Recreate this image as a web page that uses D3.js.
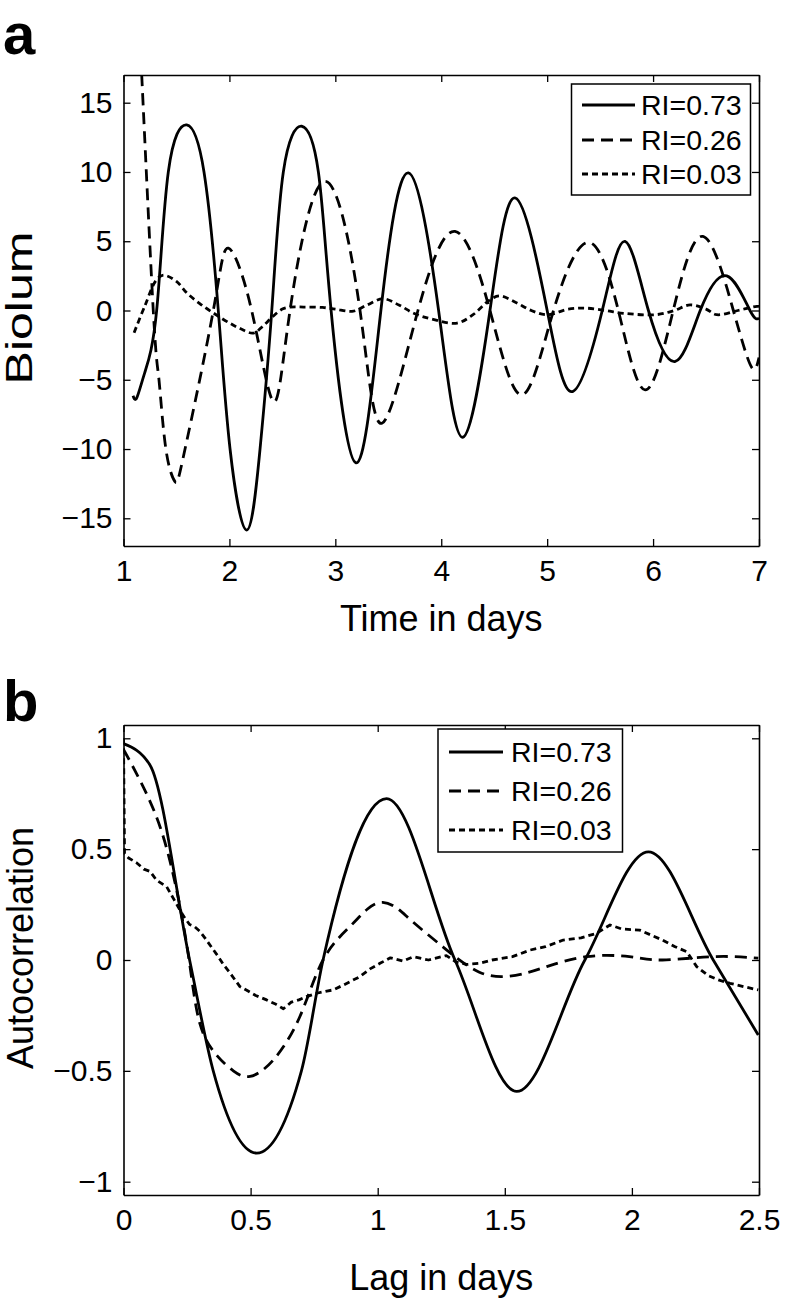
<!DOCTYPE html>
<html>
<head>
<meta charset="utf-8">
<script src="https://cdn.jsdelivr.net/npm/d3@7"></script>
<style>
  html, body { margin: 0; padding: 0; background: #fff; }
  svg { display: block; }
  text { font-family: "Liberation Sans", Arial, Helvetica, sans-serif; fill: #000; }
</style>
</head>
<body>
<script>
// ---------------- DATA ----------------
const seriesNames = ["RI=0.73", "RI=0.26", "RI=0.03"];

// Panel a: time (days) vs Biolum
const timeTicks = [1, 2, 3, 4, 5, 6, 7];
const biolumTicks = [-15, -10, -5, 0, 5, 10, 15];

const biolum073 = [
  [1.09,-6.15],[1.125,-6.3],[1.2,-4.5],[1.313,0],[1.423,10],[1.597,13.4],[1.76,10],[1.895,0],[2.006,-10],
  [2.163,-15.85],[2.289,-10],[2.40,0],[2.509,10],[2.683,13.3],[2.84,10],[2.96,0],
  [3.195,-11.0],[3.43,0],[3.69,9.93],[3.975,0],[4.203,-9.15],[4.46,0],[4.70,8.12],
  [5.0,0],[5.24,-5.85],[5.52,0],[5.735,4.99],[5.956,0],[6.21,-3.68],[6.445,0],[6.696,2.5],
  [6.915,0],[7.0,-0.55]
];
const biolum026 = [
  [1.10,28],[1.172,17],[1.281,0],[1.335,-5],[1.40,-10],[1.486,-12.35],[1.581,-10],[1.848,0],
  [1.99,4.5],[2.21,0],[2.415,-6.57],[2.572,0],[2.90,9.32],[3.233,0],[3.44,-8.14],[3.78,0],
  [4.13,5.71],[4.46,0],[4.76,-6.09],[5.06,0],[5.39,4.92],[5.672,0],[5.925,-5.73],[6.19,0],
  [6.47,5.35],[6.758,0],[6.93,-4.09],[7.0,-3.4]
];
const biolum003 = [
  [1.10,-1.6],[1.2,0.3],[1.31,2.2],[1.376,2.55],[1.5,2.1],[1.6,1.25],[1.72,0.5],[1.85,-0.19],[2.0,-0.9],
  [2.1,-1.3],[2.226,-1.63],[2.32,-1.1],[2.41,-0.43],[2.5,0.1],[2.57,0.24],[2.7,0.25],[2.88,0.22],[3.0,0.1],
  [3.17,-0.05],[3.3,0.4],[3.45,0.85],[3.6,0.4],[3.74,-0.2],[3.9,-0.6],[4.15,-0.91],[4.3,-0.3],[4.46,0.77],
  [4.55,1.06],[4.7,0.6],[4.85,0.0],[5.0,-0.31],[5.2,0.1],[5.37,0.17],[5.55,0.0],[5.72,-0.2],[6.03,-0.3],
  [6.2,0.0],[6.35,0.4],[6.5,0.1],[6.6,-0.3],[6.8,0.0],[6.98,0.3],[7.0,0.3]
];

// Panel b: lag (days) vs Autocorrelation
const lagTicks = [0, 0.5, 1, 1.5, 2, 2.5];
const acfTicks = [-1, -0.5, 0, 0.5, 1];

const acf073 = [
  [0,0.976],[0.104,0.88],[0.26,0],[0.353,-0.5],[0.524,-0.871],[0.70,-0.5],[0.785,0],
  [1.035,0.728],[1.304,0],[1.547,-0.593],[1.815,0],[2.065,0.488],[2.32,0],[2.497,-0.338]
];
const acf026 = [
  [0,0.95],[0.065,0.81],[0.144,0.60],[0.209,0.315],[0.258,0],[0.30,-0.285],[0.367,-0.43],[0.432,-0.50],
  [0.498,-0.525],[0.59,-0.45],[0.694,-0.255],[0.785,0],[0.89,0.15],[0.96,0.23],[1.02,0.26],[1.08,0.23],
  [1.14,0.17],[1.245,0.07],[1.31,0.01],[1.40,-0.055],[1.494,-0.075],[1.58,-0.06],[1.665,-0.03],
  [1.82,0.015],[1.99,0.015],[2.12,0.0],[2.32,0.015],[2.497,0.008]
];
const acf003 = [
  [0,1.0],[0.004,0.48],[0.02,0.46],[0.05,0.44],[0.08,0.41],[0.104,0.40],[0.13,0.36],[0.17,0.33],[0.2,0.27],
  [0.235,0.20],[0.26,0.16],[0.28,0.15],[0.30,0.13],[0.32,0.10],[0.345,0.06],[0.37,0.02],[0.393,-0.02],
  [0.42,-0.06],[0.458,-0.12],[0.49,-0.14],[0.52,-0.16],[0.563,-0.18],[0.6,-0.2],[0.629,-0.22],[0.66,-0.19],
  [0.69,-0.18],[0.72,-0.165],[0.76,-0.15],[0.8,-0.14],[0.825,-0.135],[0.87,-0.11],[0.93,-0.075],[0.97,-0.04],
  [1.009,-0.015],[1.05,0.01],[1.1,-0.005],[1.14,0.015],[1.2,0.0],[1.27,0.02],[1.31,-0.01],[1.35,-0.02],
  [1.40,-0.015],[1.45,0.0],[1.53,0.015],[1.6,0.045],[1.66,0.06],[1.73,0.09],[1.8,0.1],[1.86,0.12],
  [1.914,0.158],[1.96,0.14],[2.03,0.135],[2.08,0.11],[2.12,0.09],[2.17,0.06],[2.216,0.037],[2.255,-0.03],
  [2.3,-0.07],[2.34,-0.09],[2.386,-0.105],[2.44,-0.12],[2.497,-0.135]
];

// ---------------- DRAW ----------------
const W = 789, H = 1305;
const svg = d3.select("body").append("svg").attr("width", W).attr("height", H);

const dashes = ["none", "12,7", "6,4"];

function panel(opts) {
  const { x, y, xTicks, yTicks, xFmt, yFmt, data, curves, xLabel, yLabel, yLabelPos, xLabelY, letter, letterY, legend, id } = opts;
  const [x0, x1] = x.range();
  const [y0, y1] = y.range(); // y0 bottom, y1 top
  const g = svg.append("g");

  g.append("clipPath").attr("id", "clip" + id)
    .append("rect").attr("x", x0).attr("y", y1).attr("width", x1 - x0).attr("height", y0 - y1);

  // lines
  data.forEach((d, i) => {
    const line = d3.line().x(p => x(p[0])).y(p => y(p[1])).curve(curves[i]);
    g.append("path").datum(d)
      .attr("clip-path", `url(#clip${id})`)
      .attr("d", line)
      .attr("fill", "none")
      .attr("stroke", "#000")
      .attr("stroke-width", 2.8)
      .attr("stroke-dasharray", dashes[i])
      .attr("stroke-linejoin", "round");
  });

  const minus = s => s.replace("-", "\u2212");
  const fx = v => minus(xFmt(v));
  const fy = v => minus(yFmt(v));

  const axB = d3.axisBottom(x).tickValues(xTicks).tickFormat(fx).tickSizeInner(-7).tickSizeOuter(0).tickPadding(14);
  const axT = d3.axisTop(x).tickValues(xTicks).tickFormat("").tickSizeInner(-7).tickSizeOuter(0);
  const axL = d3.axisLeft(y).tickValues(yTicks).tickFormat(fy).tickSizeInner(-7).tickSizeOuter(0).tickPadding(11);
  const axR = d3.axisRight(y).tickValues(yTicks).tickFormat("").tickSizeInner(-7).tickSizeOuter(0);

  const style = sel => {
    sel.selectAll("path.domain").attr("stroke", "#000").attr("stroke-width", 1.6);
    sel.selectAll(".tick line").attr("stroke", "#000").attr("stroke-width", 1.3);
    sel.selectAll(".tick text").attr("font-size", 30).attr("fill", "#000")
      .style("font-family", '"Liberation Sans", Arial, Helvetica, sans-serif');
  };
  g.append("g").attr("transform", `translate(0,${y0})`).call(axB).call(style);
  g.append("g").attr("transform", `translate(0,${y1})`).call(axT).call(style);
  g.append("g").attr("transform", `translate(${x0},0)`).call(axL).call(style);
  g.append("g").attr("transform", `translate(${x1},0)`).call(axR).call(style);

  // axis labels
  g.append("text").attr("x", (x0 + x1) / 2).attr("y", xLabelY)
    .attr("text-anchor", "middle").attr("font-size", 36).text(xLabel);
  const yl = g.append("text")
    .attr("transform", `translate(${yLabelPos[0]},${yLabelPos[1]}) rotate(-90)`)
    .attr("text-anchor", "middle").attr("font-size", 36).text(yLabel);
  if (opts.yLabelLen) yl.attr("textLength", opts.yLabelLen).attr("lengthAdjust", "spacingAndGlyphs");

  // panel letter
  g.append("text").attr("x", 3).attr("y", letterY).attr("font-size", 58).attr("font-weight", "bold").text(letter);

  // legend
  const L = legend;
  const lg = g.append("g");
  lg.append("rect").attr("x", L.x).attr("y", L.y).attr("width", L.w).attr("height", L.h)
    .attr("fill", "#fff").attr("stroke", "#000").attr("stroke-width", 1.5);
  seriesNames.forEach((name, i) => {
    const cy = L.rows[i];
    lg.append("line").attr("x1", L.lx0).attr("x2", L.lx1).attr("y1", cy).attr("y2", cy)
      .attr("stroke", "#000").attr("stroke-width", 2.8).attr("stroke-dasharray", dashes[i]);
    lg.append("text").attr("x", L.tx).attr("y", cy + 10).attr("font-size", 28.5).text(name);
  });
}

// Panel a
panel({
  id: "a",
  x: d3.scaleLinear().domain([1, 7]).range([123.5, 759]),
  y: d3.scaleLinear().domain([-17, 17]).range([546, 75]),
  xTicks: timeTicks, yTicks: biolumTicks,
  xFmt: d3.format("d"), yFmt: d3.format("d"),
  data: [biolum073, biolum026, biolum003],
  curves: [d3.curveNatural, d3.curveNatural, d3.curveCatmullRom.alpha(0.5)],
  xLabel: "Time in days", xLabelY: 631,
  yLabel: "Biolum", yLabelPos: [32, 308], yLabelLen: 153,
  letter: "a", letterY: 54,
  legend: { x: 571.5, y: 84, w: 179, h: 111, rows: [105, 140, 174], lx0: 582, lx1: 635, tx: 641 }
});

// Panel b
panel({
  id: "b",
  x: d3.scaleLinear().domain([0, 2.5]).range([123.5, 759]),
  y: d3.scaleLinear().domain([-1.06, 1.06]).range([1195, 725]),
  xTicks: lagTicks, yTicks: acfTicks,
  xFmt: d3.format("~g"), yFmt: d3.format("~g"),
  data: [acf073, acf026, acf003],
  curves: [d3.curveMonotoneX, d3.curveNatural, d3.curveLinear],
  xLabel: "Lag in days", xLabelY: 1290,
  yLabel: "Autocorrelation", yLabelPos: [33, 948],
  letter: "b", letterY: 721,
  legend: { x: 438, y: 729, w: 184.5, h: 123, rows: [752, 791, 830], lx0: 449, lx1: 503, tx: 511 }
});
</script>
</body>
</html>
